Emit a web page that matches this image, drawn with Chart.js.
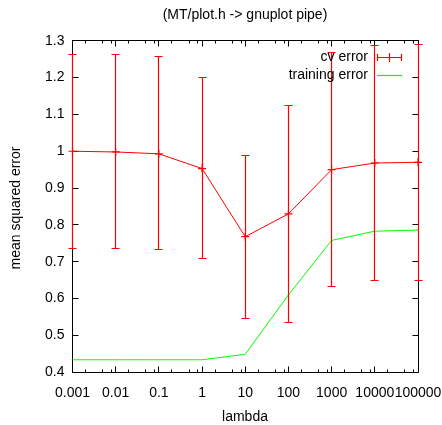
<!DOCTYPE html>
<html>
<head>
<meta charset="utf-8">
<script src="https://cdn.jsdelivr.net/npm/chart.js@4"></script>
<style>
  html, body { margin: 0; padding: 0; background: #fff; }
  canvas { display: block; }
</style>
</head>
<body>
<canvas id="lambdaChart" width="442" height="425"></canvas>
<script>
// data
const lambdas = [0.001, 0.01, 0.1, 1, 10, 100, 1000, 10000, 100000];
const lambdaLabels = ['0.001', '0.01', '0.1', '1', '10', '100', '1000', '10000', '100000'];
const cvError = [1.0, 0.998, 0.993, 0.953, 0.768, 0.830, 0.950, 0.968, 0.970];
const cvLow = [0.736, 0.736, 0.734, 0.708, 0.546, 0.536, 0.634, 0.650, 0.650];
const cvHigh = [1.263, 1.263, 1.257, 1.200, 0.989, 1.125, 1.268, 1.286, 1.290];
const trainError = [0.434, 0.434, 0.434, 0.434, 0.449, 0.610, 0.758, 0.783, 0.786];
const yTicks = [0.4, 0.5, 0.6, 0.7, 0.8, 0.9, 1, 1.1, 1.2, 1.3];
const minorSteps = [2, 5, 8];

const FAMILY = '"Liberation Sans", Arial, sans-serif';
const FONT = '14px ' + FAMILY;
const RED = '#ff0000';
const GREEN = '#00ff00';

function crisp(v) { return Math.floor(v) + 0.5; }

// frame, inward ticks, error bars, legend and titles, gnuplot style
const gnuplotLook = {
    id: 'gnuplotLook',
    beforeDatasetsDraw(chart) {
        const ctx = chart.ctx;
        const a = chart.chartArea;
        const xs = chart.scales.x, ys = chart.scales.y;
        const L = crisp(a.left), R = crisp(a.right), T = crisp(a.top), B = crisp(a.bottom);
        ctx.save();
        ctx.strokeStyle = '#000';
        ctx.lineWidth = 1;
        ctx.beginPath();
        ctx.rect(L, T, R - L, B - T);
        // y major ticks, left and right
        yTicks.forEach(v => {
            const y = crisp(ys.getPixelForValue(v));
            ctx.moveTo(L, y); ctx.lineTo(L + 6, y);
            ctx.moveTo(R, y); ctx.lineTo(R - 6, y);
        });
        // x major + minor ticks, bottom and top
        lambdas.forEach((v, i) => {
            const x = crisp(xs.getPixelForValue(v));
            ctx.moveTo(x, B); ctx.lineTo(x, B - 6);
            ctx.moveTo(x, T); ctx.lineTo(x, T + 6);
            if (i < lambdas.length - 1) {
                minorSteps.forEach(m => {
                    const mx = crisp(xs.getPixelForValue(v * m));
                    ctx.moveTo(mx, B); ctx.lineTo(mx, B - 3);
                    ctx.moveTo(mx, T); ctx.lineTo(mx, T + 3);
                });
            }
        });
        ctx.stroke();
        ctx.restore();
    },
    afterDatasetsDraw(chart) {
        const ctx = chart.ctx;
        const xs = chart.scales.x, ys = chart.scales.y;
        ctx.save();
        ctx.strokeStyle = RED;
        ctx.lineWidth = 1.2;
        ctx.beginPath();
        lambdas.forEach((v, i) => {
            const x = crisp(xs.getPixelForValue(v));
            const yl = crisp(ys.getPixelForValue(cvLow[i]));
            const yh = crisp(ys.getPixelForValue(cvHigh[i]));
            ctx.moveTo(x, yl); ctx.lineTo(x, yh);
            ctx.moveTo(x - 4, yl); ctx.lineTo(x + 4, yl);
            ctx.moveTo(x - 4, yh); ctx.lineTo(x + 4, yh);
        });
        ctx.stroke();

        // legend
        ctx.font = FONT;
        ctx.fillStyle = '#000';
        ctx.textAlign = 'right';
        ctx.textBaseline = 'middle';
        ctx.fillText('cv error', 368, 57);
        ctx.fillText('training error', 368, 75);
        ctx.beginPath();
        ctx.strokeStyle = RED;
        ctx.moveTo(377, 57.5); ctx.lineTo(402, 57.5);
        ctx.moveTo(377.5, 54); ctx.lineTo(377.5, 61);
        ctx.moveTo(401.5, 54); ctx.lineTo(401.5, 61);
        ctx.moveTo(389.5, 53); ctx.lineTo(389.5, 62);
        ctx.stroke();
        ctx.beginPath();
        ctx.strokeStyle = GREEN;
        ctx.moveTo(377, 75.5); ctx.lineTo(402, 75.5);
        ctx.stroke();

        // titles
        ctx.textAlign = 'center';
        ctx.textBaseline = 'alphabetic';
        ctx.fillText('(MT/plot.h -> gnuplot pipe)', 245, 19);
        ctx.fillText('lambda', 245, 421);
        ctx.translate(20, 208);
        ctx.rotate(-Math.PI / 2);
        ctx.fillText('mean squared error', 0, 0);
        ctx.restore();
    }
};

const config = {
    type: 'line',
    data: {
        datasets: [{
            label: 'cv error',
            data: lambdas.map((v, i) => ({ x: v, y: cvError[i] })),
            borderColor: RED,
            backgroundColor: RED,
            borderWidth: 1,
            pointStyle: 'cross',
            pointRadius: 4,
            pointBorderWidth: 1.2,
            tension: 0,
            clip: false
        }, {
            label: 'training error',
            data: lambdas.map((v, i) => ({ x: v, y: trainError[i] })),
            borderColor: GREEN,
            borderWidth: 1,
            pointRadius: 0,
            tension: 0,
            clip: false
        }]
    },
    options: {
        responsive: false,
        animation: false,
        devicePixelRatio: 1,
        layout: { padding: { top: 40.7, right: 24, left: 0, bottom: 0 } },
        plugins: {
            legend: { display: false },
            tooltip: { enabled: false }
        },
        scales: {
            x: {
                type: 'logarithmic',
                min: 0.001,
                max: 100000,
                grid: { display: false, drawTicks: false },
                border: { display: false },
                afterBuildTicks: s => { s.ticks = lambdas.map(v => ({ value: v })); },
                afterFit: s => { s.height = 52.7; s.paddingLeft = 0; s.paddingRight = 0; },
                ticks: {
                    autoSkip: false,
                    maxRotation: 0,
                    padding: 12,
                    color: '#000',
                    font: { family: FAMILY, size: 14 },
                    callback: (v, i) => lambdaLabels[i]
                }
            },
            y: {
                min: 0.4,
                max: 1.3,
                grid: { display: false, drawTicks: false },
                border: { display: false },
                afterBuildTicks: s => { s.ticks = yTicks.map(v => ({ value: v })); },
                afterFit: s => { s.width = 72.5; s.paddingTop = 0; s.paddingBottom = 0; },
                ticks: {
                    padding: 8,
                    color: '#000',
                    font: { family: FAMILY, size: 14 },
                    callback: v => String(v)
                }
            }
        }
    },
    plugins: [gnuplotLook]
};

const lambdaChart = new Chart(document.getElementById('lambdaChart'), config);
</script>
</body>
</html>
